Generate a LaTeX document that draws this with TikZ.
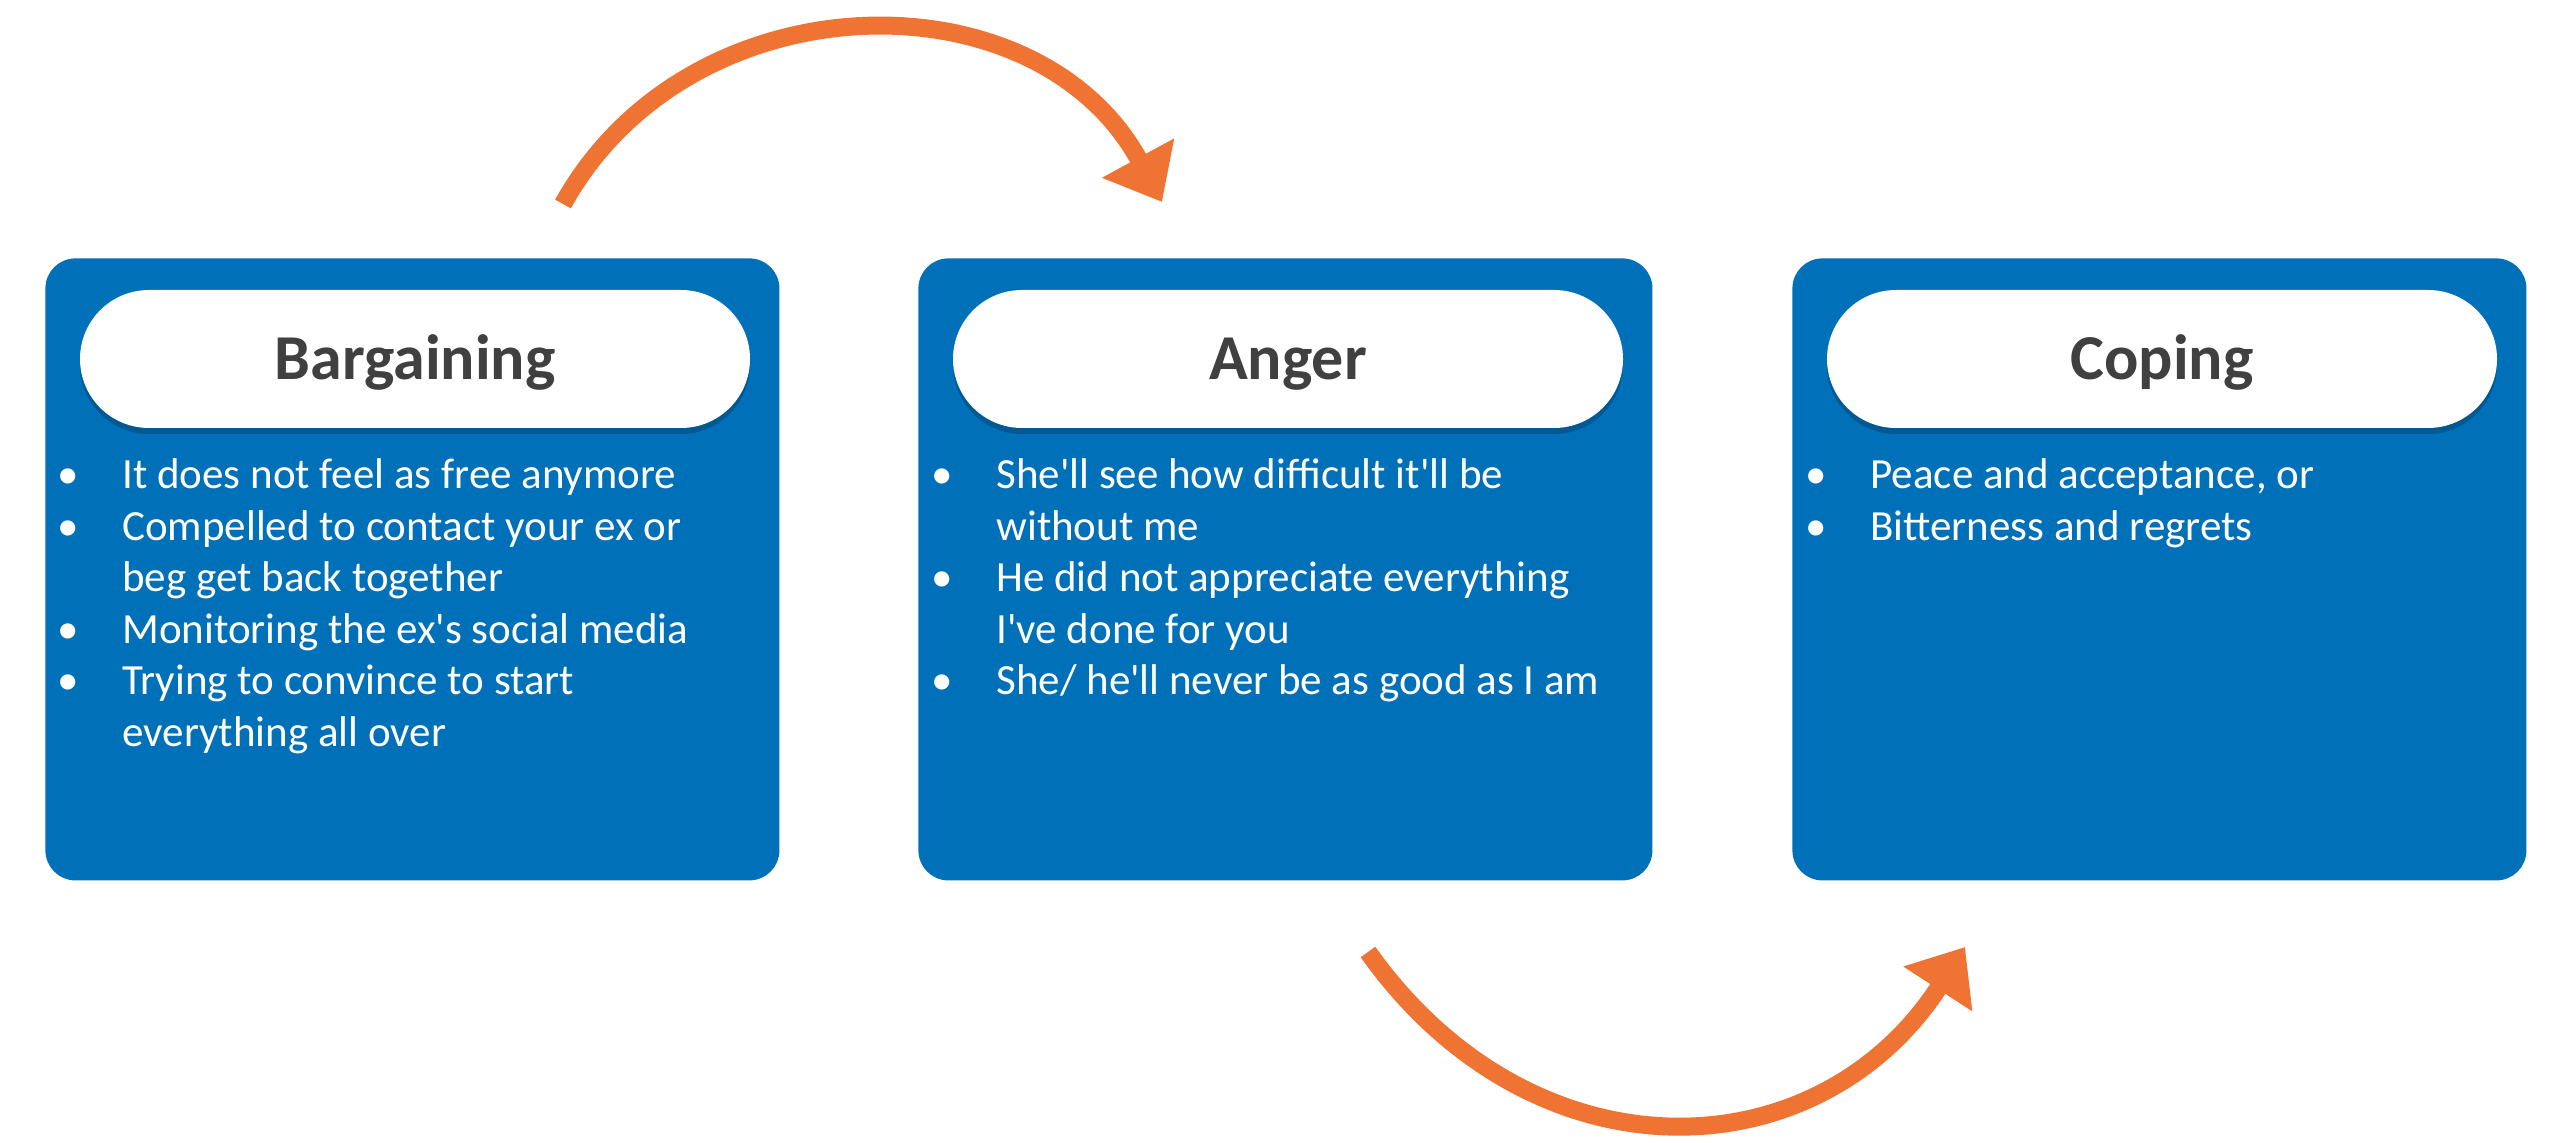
\documentclass[tikz,border=0pt]{standalone}
\usepackage{fontspec}
\setmainfont{Carlito}[Ligatures=TeXOff]
\usetikzlibrary{arrows.meta,shadows}
\definecolor{boxblue}{HTML}{0070B8}
\definecolor{arrorange}{HTML}{EF7332}
\definecolor{titlegray}{HTML}{404040}
\newcommand\bl{\makebox[32.5pt][l]{\textbullet}}
\tikzset{
  panel/.style={fill=boxblue, rounded corners=15pt, minimum width=367pt, minimum height=311pt, inner sep=0pt, anchor=north west},
  pill/.style={fill=white, rounded corners=34.5pt, minimum width=335pt, minimum height=69pt, inner sep=0pt,
    text height=20.6pt, text depth=0pt, font=\fontsize{32pt}{38pt}\selectfont\bfseries, text=titlegray,
    drop shadow={shadow xshift=0pt, shadow yshift=-3pt, opacity=0.2, fill=black}},
  items/.style={anchor=north west, inner sep=0pt, text=white,
    font=\fontsize{21.5pt}{25.8pt}\selectfont},
  flow/.style={draw=arrorange, line width=9pt, -{Triangle[length=25pt,width=39.5pt]}}
}
\begin{document}
\begin{tikzpicture}[x=0.5pt,y=-0.5pt]
\useasboundingbox[fill=white] (0,0) rectangle (2560,1143);
% panels
\node[panel] (b1) at (45,258) {};
\node[panel] (b2) at (918,258) {};
\node[panel] (b3) at (1792,258) {};
% titles
\node[pill] (p1) at (415,359) {Bargaining};
\node[pill] (p2) at (1288,359) {Anger};
\node[pill] (p3) at (2162,359) {Coping};
% bullet texts
\node[items] (t1) at (57,452) {\begin{tabular}{@{}l@{}l@{}}
  \bl & It does not feel as free anymore\\
  \bl & Compelled to contact your ex or\\
      & beg get back together\\
  \bl & Monitoring the ex's social media\\
  \bl & Trying to convince to start\\
      & everything all over
  \end{tabular}};
\node[items] (t2) at (931,452) {\begin{tabular}{@{}l@{}l@{}}
  \bl & She'll see how difficult it'll be\\
      & without me\\
  \bl & He did not appreciate everything\\
      & I've done for you\\
  \bl & She/ he'll never be as good as I am
  \end{tabular}};
\node[items] (t3) at (1805,452) {\begin{tabular}{@{}l@{}l@{}}
  \bl & Peace and acceptance, or\\
  \bl & Bitterness and regrets
  \end{tabular}};
% arrows
\coordinate (a1s) at (563,204);
\coordinate (a1e) at (1162,202);
\draw[flow] (a1s) .. controls (689,-23) and (1036,-29) .. (a1e);
\coordinate (a2s) at (1368,952);
\coordinate (a2e) at (1965,947);
\draw[flow] (a2s) .. controls (1532,1183) and (1817,1175) .. (a2e);
\end{tikzpicture}
\end{document}
